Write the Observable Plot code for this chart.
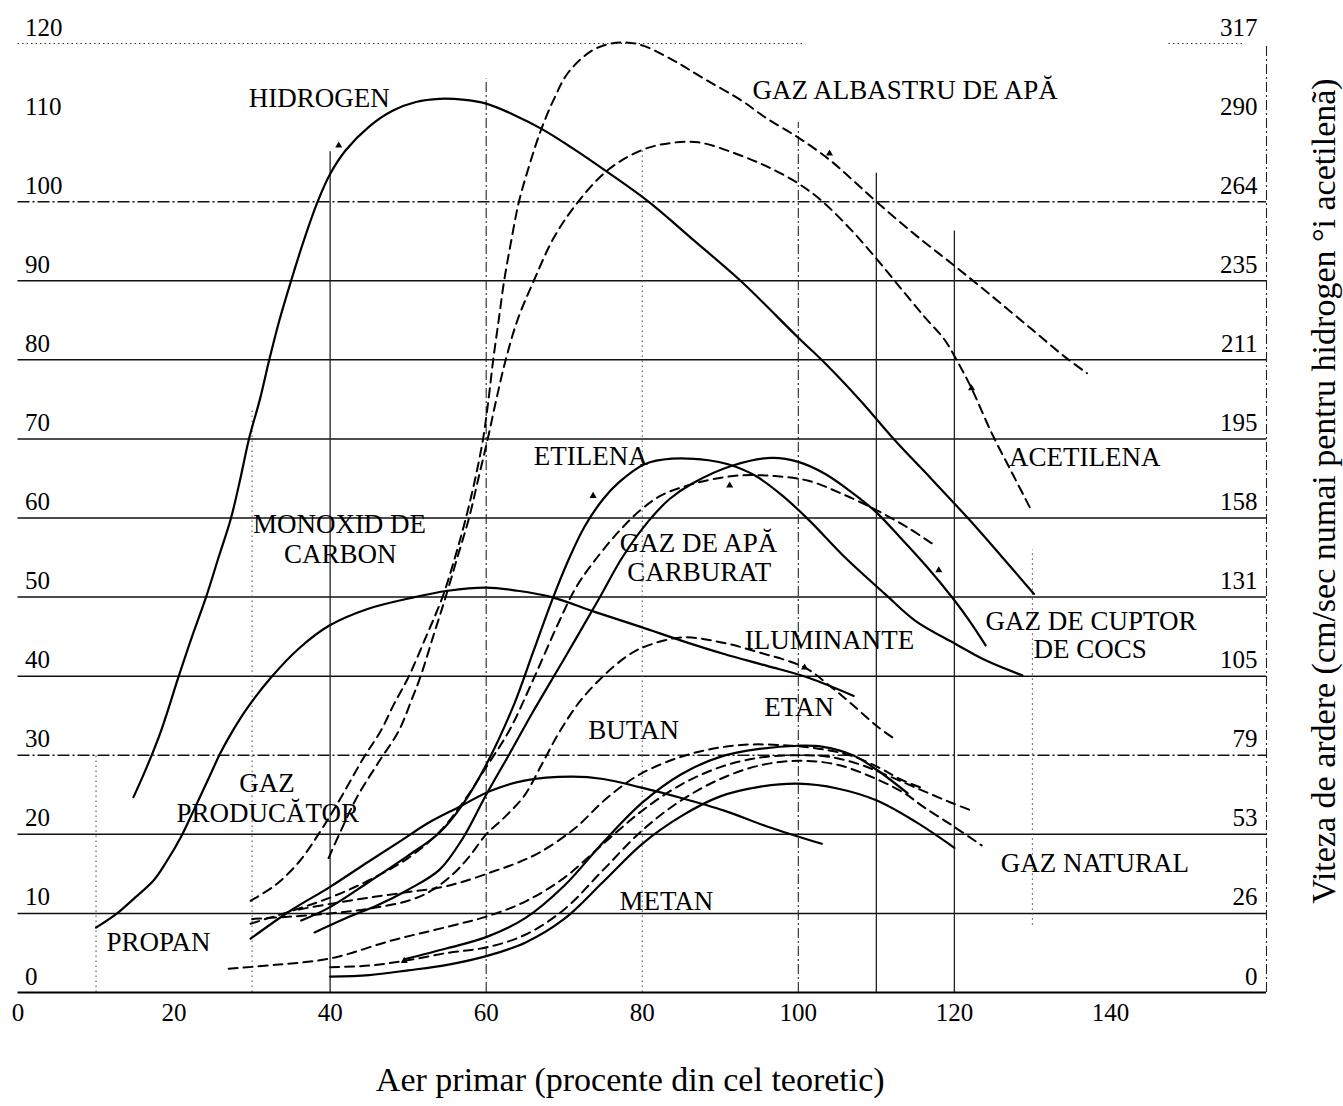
<!DOCTYPE html>
<html>
<head>
<meta charset="utf-8">
<script src="https://cdn.jsdelivr.net/npm/d3@7"></script>
<script src="https://cdn.jsdelivr.net/npm/@observablehq/plot@0.6"></script>
<style>
  html, body { margin: 0; padding: 0; background: #fff; }
  #chart svg { display: block; }
</style>
</head>
<body>
<div id="chart"></div>
<script>
const FONT = '"Liberation Serif", "Times New Roman", Times, serif';

// Axis ticks: left scale (cm/sec) and the matching right-hand scale for hydrogen and acetylene
const yTicks = [0, 10, 20, 30, 40, 50, 60, 70, 80, 90, 100, 110, 120];
const yTicksRight = ["0", "26", "53", "79", "105", "131", "158", "195", "211", "235", "264", "290", "317"];
const xTicks = [0, 20, 40, 60, 80, 100, 120, 140];

// Horizontal reference lines
const gridSolid = [10, 20, 40, 50, 60, 70, 80, 90];
const gridDashDot = [30, 100];
const topDotted = [{x1: 0, x2: 100.8}, {x1: 147.5, x2: 157.3}];

// Vertical reference lines: x, extent and line kind
const verticals = [
  {x: 10, y1: 0, y2: 30, kind: "dotted"},
  {x: 30, y1: 0, y2: 74, kind: "dotted"},
  {x: 40, y1: 0, y2: 106.3, kind: "solid"},
  {x: 60, y1: 0, y2: 115.5, kind: "dashdot"},
  {x: 80, y1: 0, y2: 106.5, kind: "dotted"},
  {x: 100, y1: 0, y2: 110, kind: "dashdot"},
  {x: 110, y1: 0, y2: 103.6, kind: "solid"},
  {x: 120, y1: 0, y2: 96.3, kind: "solid"},
  {x: 130, y1: 8.5, y2: 56, kind: "dotted"},
  {x: 160, y1: 0, y2: 120, kind: "dashdot"}
];

// Flame speed curves: [primary air %, speed]
const hidrogen = [[14.8,24.7],[16.5,28.5],[18.3,33],[20.6,40],[22.3,45],[24.1,50],[25.7,55],[27.3,60],[28.5,65],[29.6,70],[31,75],[32.2,80],[33.5,85],[35,90],[36.6,95],[38.4,100],[40,103.5],[42,106.5],[45,109.5],[48,111.5],[51,112.6],[54,113],[57,112.9],[60,112.4],[63.5,111],[67.1,109.2],[71,106.8],[75.6,103.7],[80.8,100],[86.5,95.2],[92.7,89.9],[100,82.8],[103.4,79.6],[108,74.8],[112.4,69.8],[117,65],[121.9,59.8],[126,55.2],[130.2,50.4]];
const monoxidCarbon = [[10,8.2],[12.7,10],[15,12],[17.4,14.2],[19,16.5],[20.9,19.7],[22.5,23],[24.3,26.8],[26,30.4],[27.7,33.4],[29.4,36],[32.4,39.8],[36,43.5],[39.9,46.4],[44.8,48.5],[50.4,49.9],[55.1,50.8],[60,51.2],[64,50.8],[68.4,50],[74,48.1],[79.9,46.2],[85,44.5],[90.5,42.8],[96,41.3],[101.3,39.8],[107.1,37.5]];
const etilena = [[36.3,9.1],[40,10.8],[45,14],[50,17.3],[54,20.2],[57,23.8],[60,28.8],[63.6,36.5],[66,43],[68.4,49.5],[70.5,54.6],[72.6,58.9],[75,62.4],[77,64.5],[80.3,66.8],[83.8,67.5],[88.5,67.3],[91,66.8],[94.4,65.4],[98,62.8],[101.4,59.7],[106,55],[111.1,50.4],[115,47],[120.1,44.1],[124,42],[128.7,40.1]];
const cuptorCocs = [[38,7.6],[42,9.4],[46,11],[50,13],[54,15.5],[57,19.5],[60,25],[63,30.2],[66,35.5],[70,42.2],[74.4,49.7],[77.5,55.1],[80.8,59.6],[83.5,62.4],[86.3,64.3],[91.5,66.6],[96.6,67.6],[100,67.1],[103.4,65.6],[106.5,63.5],[109.8,60.9],[113,57.6],[116.5,53.8],[120,49.6],[122,46.9],[124,43.9]];
const gazProducator = [[29.8,6.8],[35,10.4],[39.9,13.3],[45,16.6],[49.1,19.2],[52.5,21.4],[56.4,23.4],[60.6,25.5],[64.9,26.8],[70.9,27.3],[75,27],[79.9,25.9],[85,24.6],[90.5,23],[96,21],[103,18.8]];
const etan = [[49.5,4.2],[55,5.6],[60,7],[65,9.4],[70,13.5],[75,19],[80,24],[85,27.6],[90,29.8],[95,30.8],[100,31.2],[103,31.1],[107,30],[110,28.2],[114,25.2]];
const metan = [[40,2],[45,2.2],[50,2.8],[55,3.5],[60,4.6],[65,6.3],[70,9.3],[75,14],[80,18.8],[85,22.3],[90,24.8],[95,26],[100,26.4],[105,25.8],[110,24.3],[115,21.6],[120,18.3]];

const gazAlbastru = [[29.8,11.6],[33,13.6],[36,16.5],[38.5,20],[41,24],[44.3,29.7],[46.5,33.1],[48.2,36.5],[50,39.8],[52.3,45],[54.4,50],[56,55],[57.4,60],[58.6,65],[59.6,70],[60.3,75],[60.9,80],[61.6,85],[62.3,90],[63.2,95],[64.2,100],[65.5,104.5],[67,109],[68.7,113],[70.5,116.3],[73.4,119],[76,120],[78.2,120.1],[80.2,119.7],[84.1,117.8],[88,115.5],[92.7,112.8],[96,110.5],[100,108.1],[104,105.3],[107,102.7],[110,100],[115,95.8],[120,91.9],[125,87.9],[130,83.8],[134,80.5],[137,78.3]];
const acetilena = [[39.8,17],[41.4,20.5],[43.5,24.8],[46,28.8],[48.8,33.1],[50.4,36.9],[51.6,40],[53.2,45],[54.8,50],[56.3,55],[57.8,60],[59,65],[60.2,70],[61.3,75],[62.5,80],[64,85],[66.1,90],[68.7,95.5],[71.8,100],[75.6,104],[79.9,106.5],[83.5,107.4],[87.2,107.5],[92.7,105.8],[96.5,104.2],[100,102.3],[103,100.1],[106.8,96.4],[110,92.8],[113,89.2],[116.2,85.4],[118.7,82.6],[120.5,79.6],[122.2,76.4],[124.8,70.7],[127.5,65.5],[129.9,60.9]];
const gazApaCarburat = [[29.8,8.7],[35,10.3],[40,12],[45,14.2],[50,17],[54,20.3],[57,24],[60,28.5],[63,33.2],[66,39.5],[69.2,46.6],[71.5,51.2],[73.9,54.6],[77,58.3],[79.9,61.1],[82.5,62.9],[85.8,64.1],[89,64.9],[92.7,65.4],[97,65.3],[101.3,64.7],[105.5,63.1],[110,61],[114,58.8],[117.1,56.8]];
const iluminante = [[30,9.3],[35,9.6],[40,10],[45,10.6],[50,11.6],[53,12.9],[56,15.2],[58,17.4],[60,20],[62.5,22.3],[64.9,24.9],[67,28.6],[69.3,32.8],[72,36.8],[75.1,40.1],[78,42.5],[80,43.6],[85,44.9],[90,44.3],[95,43],[100.8,41.1],[104,38.8],[106.8,36.5],[110.3,33.5],[112.3,32.1]];
const butan = [[36,10.5],[40,11.2],[45,12],[50,12.7],[54.2,13.3],[57,14],[60.6,15.2],[64,16.4],[67,17.8],[71.3,20.7],[75.6,24.7],[79.9,27.7],[86.3,30.2],[92.7,31.3],[99.1,31.2],[104,30.6],[107.2,29.8],[110.6,28.3],[113,27],[116,25.8]];
const propan = [[27,3],[33,3.5],[40,4.3],[48,6.6],[55,8.3],[60,9.6],[65,11.5],[70,14.5],[75,18.8],[80,23],[85,26.3],[90,28.5],[95,29.7],[100,30],[104,29.8],[108,28.8],[112,27.2],[116,25.5],[119.6,24],[122.2,23]];
const gazNatural = [[40,3.2],[45,3.4],[49.5,4],[55,5],[60,5.7],[65,7.3],[70,10.5],[75,15.5],[80,20.5],[85,24.3],[90,27],[95,28.7],[100,29.3],[105,28.8],[110,27],[113.6,25.2],[116,23.5],[119.6,21.2],[123.5,18.6]];

const solidSeries = {hidrogen, monoxidCarbon, etilena, cuptorCocs, gazProducator, etan, metan};
const dashedSeries = {gazAlbastru, acetilena, gazApaCarburat, iluminante, butan, propan, gazNatural};

// Small triangular point markers drawn on some curves
const markers = [[41.1,107.1],[104,106.1],[122.2,76.4],[73.7,62.8],[91.2,64.1],[118,53.4],[100.8,41.1],[49.5,4]];

// Curve names
const labels = [
  {text: "HIDROGEN", x: 38.6, y: 113.1},
  {text: "GAZ ALBASTRU DE APĂ", x: 113.7, y: 114.1},
  {text: "ACETILENA", x: 136.7, y: 67.7},
  {text: "ETILENA", x: 73.4, y: 67.8},
  {text: "MONOXID DE", x: 41.2, y: 59.2},
  {text: "CARBON", x: 41.3, y: 55.4},
  {text: "GAZ DE APĂ", x: 87.2, y: 56.8},
  {text: "CARBURAT", x: 87.3, y: 53.1},
  {text: "GAZ DE CUPTOR", x: 137.5, y: 46.9},
  {text: "DE COCS", x: 137.4, y: 43.4},
  {text: "ILUMINANTE", x: 104, y: 44.5},
  {text: "ETAN", x: 100.1, y: 36.0},
  {text: "BUTAN", x: 78.9, y: 33.1},
  {text: "GAZ", x: 31.9, y: 26.5},
  {text: "PRODUCĂTOR", x: 32, y: 22.7},
  {text: "PROPAN", x: 18, y: 6.4},
  {text: "METAN", x: 83.1, y: 11.5},
  {text: "GAZ NATURAL", x: 138, y: 16.3}
];

const xTitle = "Aer primar (procente din cel teoretic)";
const yTitle = "Viteza de ardere (cm/sec numai pentru hidrogen °i acetilenã)";

function toRows(group) {
  return Object.entries(group).flatMap(([name, pts]) => pts.map(([x, y]) => ({name, x, y})));
}
const solidRows = toRows(solidSeries);
const dashedRows = toRows(dashedSeries);

const dashFor = {solid: null, dotted: "1.5,3.5", dashdot: "10,3,2,3"};

const chart = Plot.plot({
  width: 1343,
  height: 1106,
  marginLeft: 17.5,
  marginRight: 77,
  marginTop: 43,
  marginBottom: 114,
  x: {domain: [0, 160]},
  y: {domain: [0, 120], axis: null},
  style: {fontFamily: FONT, fontSize: "25px", color: "#000", background: "#fff"},
  marks: [
    // grid
    Plot.ruleY(gridSolid, {stroke: "#111", strokeWidth: 1.5}),
    Plot.ruleY(gridDashDot, {stroke: "#111", strokeWidth: 1.5, strokeDasharray: "12,3,2,3"}),
    Plot.ruleY(topDotted, {y: 120, x1: "x1", x2: "x2", stroke: "#333", strokeWidth: 1, strokeDasharray: "1.5,3"}),
    ...["solid", "dotted", "dashdot"].map(kind =>
      Plot.ruleX(verticals.filter(v => v.kind === kind), {
        x: "x", y1: "y1", y2: "y2",
        stroke: kind === "dotted" ? "#555" : "#222",
        strokeWidth: kind === "solid" ? 1.3 : 1.1,
        strokeDasharray: dashFor[kind]
      })
    ),
    Plot.ruleY([0], {stroke: "#000", strokeWidth: 2}),
    // curves
    Plot.line(solidRows, {x: "x", y: "y", z: "name", curve: "catmull-rom", stroke: "#000", strokeWidth: 2.2}),
    Plot.line(dashedRows, {x: "x", y: "y", z: "name", curve: "catmull-rom", stroke: "#000", strokeWidth: 2, strokeDasharray: "9,6"}),
    Plot.dot(markers, {x: d => d[0], y: d => d[1], symbol: "triangle", r: 2.6, fill: "#000", stroke: null}),
    // curve names
    Plot.text(labels, {x: "x", y: "y", text: "text", fontSize: 27, fontFamily: FONT, fill: "#000"}),
    // tick labels, left and right
    Plot.text(yTicks, {x: 0, y: d => d, text: d => String(d), textAnchor: "start", dx: 7, dy: -16, fontSize: 25, fontFamily: FONT}),
    Plot.text(yTicks, {x: 160, y: d => d, text: (d, i) => yTicksRight[i], textAnchor: "end", dx: -9, dy: -16, fontSize: 25, fontFamily: FONT}),
    Plot.axisX(xTicks, {tickSize: 0, tickPadding: 11, fontSize: 25, fontFamily: FONT, label: null}),
    // axis titles
    Plot.text([xTitle], {frameAnchor: "bottom", textAnchor: "middle", lineAnchor: "middle", dx: -12, dy: 88, fontSize: 34, fontFamily: FONT}),
    Plot.text([yTitle], {frameAnchor: "right", textAnchor: "middle", lineAnchor: "middle", rotate: -90, dx: 58, dy: -27, fontSize: 34, fontFamily: FONT})
  ]
});

document.getElementById("chart").appendChild(chart);
</script>
</body>
</html>
